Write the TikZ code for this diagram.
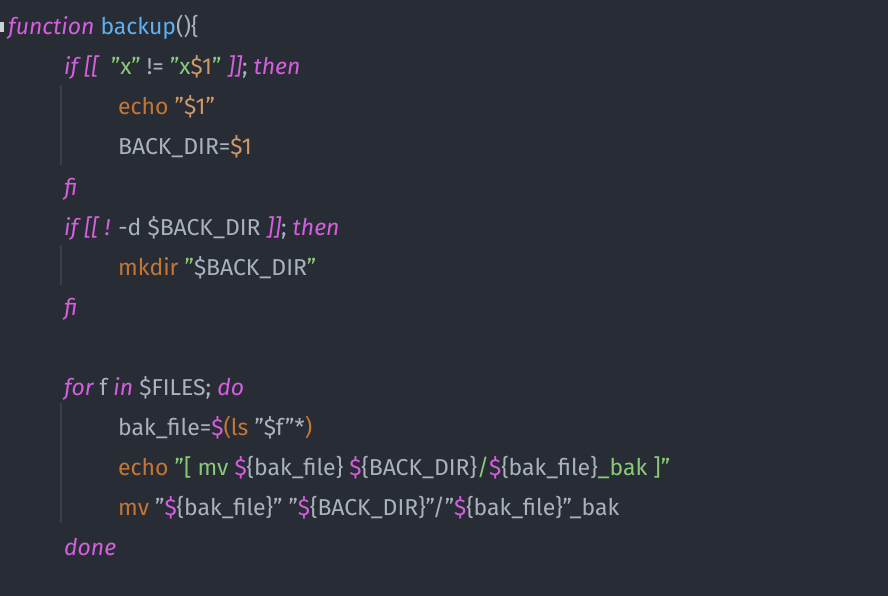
\documentclass[tikz,border=0pt]{standalone}
\usepackage{fontspec}
\setmainfont{Fira Sans}
\definecolor{bg}{HTML}{282C34}
\definecolor{kw}{HTML}{D55FDE}
\definecolor{fn}{HTML}{61AFEF}
\definecolor{st}{HTML}{89CA78}
\definecolor{or}{HTML}{D19A66}
\definecolor{cm}{HTML}{C57633}
\definecolor{tx}{HTML}{ABB2BF}
\definecolor{gd}{HTML}{3B4048}
\newcommand{\cK}[1]{\textcolor{kw}{\itshape #1}}
\newcommand{\cP}[1]{\textcolor{kw}{#1}}
\newcommand{\cF}[1]{\textcolor{fn}{#1}}
\newcommand{\cS}[1]{\textcolor{st}{#1}}
\newcommand{\cO}[1]{\textcolor{or}{#1}}
\newcommand{\cC}[1]{\textcolor{cm}{#1}}
\tikzset{ln/.style={anchor=base west,inner sep=0pt,text=tx,font=\fontsize{23}{26}\selectfont}}
\begin{document}
\begin{tikzpicture}[x=1pt,y=-1pt]
\fill[bg] (0,0) rectangle (888,596);
\useasboundingbox (0,0) rectangle (888,596);
\draw[gd,line width=1.5] (61,85) -- (61,165);
\draw[gd,line width=1.5] (61,245) -- (61,285);
\draw[gd,line width=1.5] (61,403) -- (61,523);
\fill[tx!60] (0,22) rectangle (4,32);
\node[ln] (l0) at (8,35) {\cK{function} \cF{backup}()\{};
\node[ln] (l1) at (64,75) {\cK{if} \cK{[[}\ \ \cS{"x"} != \cS{"x}\cO{\$1}\cS{"} \cK{]]}; \cK{then}};
\node[ln] (l2) at (118,115) {\cC{echo} \cO{"\$1"}};
\node[ln] (l3) at (118,155) {BACK\_DIR=\cO{\$1}};
\node[ln] (l4) at (64,195) {\cK{fi}};
\node[ln] (l5) at (64,235) {\cK{if} \cK{[[} \cK{!} -d \$BACK\_DIR \cK{]]}; \cK{then}};
\node[ln] (l6) at (118,275) {\cC{mkdir} \cS{"}\$BACK\_DIR\cS{"}};
\node[ln] (l7) at (64,315) {\cK{fi}};
\node[ln] (l9) at (64,395) {\cK{for} f \cK{in} \$FILES; \cK{do}};
\node[ln] (l10) at (118,435) {bak\_file=\cP{\$}\cC{(ls} "\$f"*\cC{)}};
\node[ln] (l11) at (118,475) {\cC{echo} \cS{"[ mv }\cP{\$}\{bak\_file\} \cP{\$}\{BACK\_DIR\}\cS{/}\cP{\$}\{bak\_file\}\cS{\_bak ]"}};
\node[ln] (l12) at (118,515) {\cC{mv} "\cP{\$}\{bak\_file\}" "\cP{\$}\{BACK\_DIR\}"/"\cP{\$}\{bak\_file\}"\_bak};
\node[ln] (l13) at (64,555) {\cK{done}};
\end{tikzpicture}
\end{document}
